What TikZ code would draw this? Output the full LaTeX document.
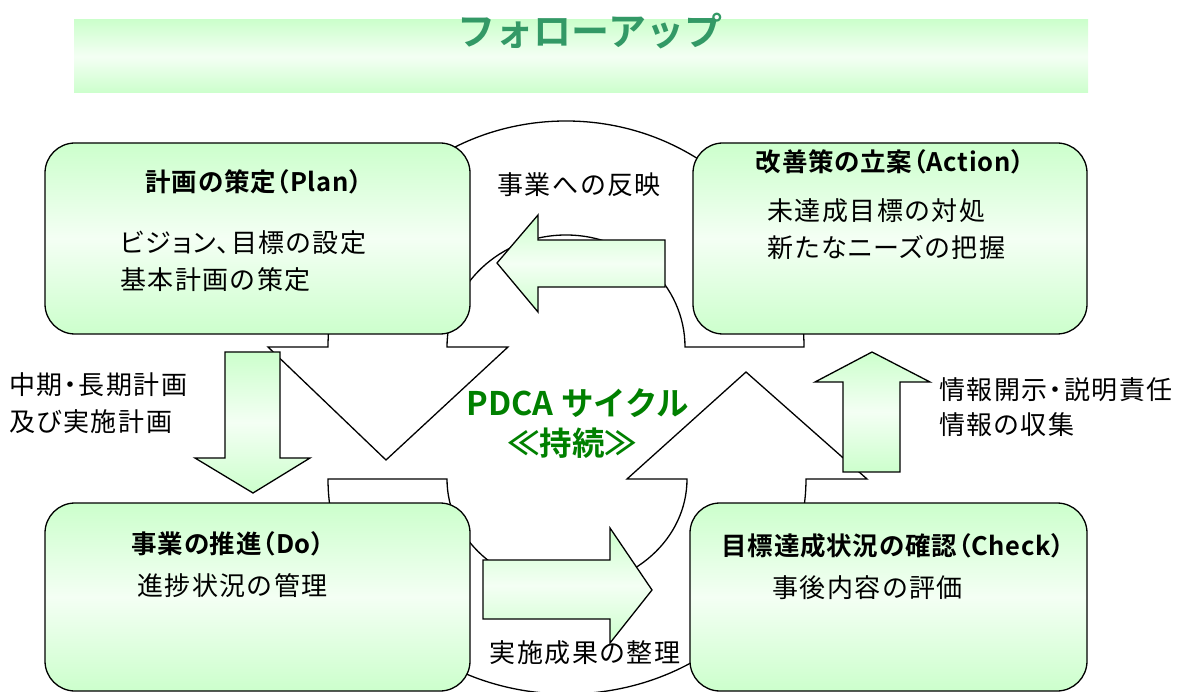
\documentclass[tikz,border=0pt]{standalone}
\usepackage{fontspec}
\newfontfamily\jpbody{Noto Sans CJK JP}[RawFeature={+palt}, LetterSpace=6]
\newfontfamily\jphead{Noto Sans CJK JP Bold}[RawFeature={+palt}, LetterSpace=3]
\newfontfamily\jpbig{Noto Sans CJK JP Bold}
\definecolor{gA}{HTML}{CCFFCC}
\definecolor{gB}{HTML}{F4FFF4}
\definecolor{titlegreen}{HTML}{339966}
\definecolor{pdcagreen}{HTML}{008000}
\pgfdeclareverticalshading{gshade}{100bp}{color(0bp)=(gA); color(25bp)=(gA); color(50bp)=(gB); color(75bp)=(gA); color(100bp)=(gA)}
\tikzset{
  box/.style={draw=black, line width=1.3pt, rounded corners=30pt, shading=gshade, inner sep=0pt},
  band/.style={shading=gshade, inner sep=0pt},
  barrow/.style={draw=black, line width=1.3pt, shading=gshade, line join=miter},
  ring/.style={draw=black, line width=1.3pt, fill=white, line join=miter},
  headtxt/.style={font=\jphead\fontsize{25.5pt}{29pt}\selectfont, inner sep=0pt},
  bodytxt/.style={font=\jpbody\fontsize{26pt}{30pt}\selectfont, inner sep=0pt, anchor=west},
  labtxt/.style={font=\jpbody\fontsize{26pt}{30pt}\selectfont, inner sep=0pt},
  pdcatxt/.style={font=\jpbig\fontsize{32.5pt}{36pt}\selectfont, text=pdcagreen, inner sep=0pt},
}
\begin{document}
\begin{tikzpicture}[x=1pt, y=-1pt]
\useasboundingbox (0,0) rectangle (1184,692);
\clip (0,0) rectangle (1184,692);
% title band
\node[band, minimum width=1014pt, minimum height=73pt] (bandbox) at (581,56.5) {};
\node[font=\jpbig\fontsize{38pt}{42pt}\selectfont, text=titlegreen, inner sep=0pt] (title) at (590,31) {フォローアップ};
% circular arrows
\path[ring] (804,347) arc[start angle=0, end angle=-180, x radius=238, y radius=226]
  -- (268,347) -- (386,460) -- (508,347) -- (447,347)
  arc[start angle=180, end angle=360, x radius=119, y radius=112] -- cycle;
\path[ring] (328,479) arc[start angle=180, end angle=0, x radius=239, y radius=215]
  -- (867,479) -- (746,372) -- (627,479) -- (687,479)
  arc[start angle=0, end angle=180, x radius=120, y radius=108] -- cycle;
% boxes
\node[box, minimum width=425pt, minimum height=191pt] (plan) at (257.5,238.5) {};
\node[box, minimum width=394pt, minimum height=191pt] (action) at (890,238.5) {};
\node[box, minimum width=425pt, minimum height=188pt] (do) at (257.5,597) {};
\node[box, minimum width=397pt, minimum height=188pt] (check) at (888.5,597) {};
% block arrows
\path[barrow] (665,240) -- (538,240) -- (538,215) -- (497,263) -- (538,312) -- (538,287) -- (665,287) -- cycle;
\path[barrow] (225,352) -- (280,352) -- (280,458) -- (310,458) -- (253,493) -- (195,458) -- (225,458) -- cycle;
\path[barrow] (483,560) -- (610,560) -- (610,528) -- (652,590) -- (610,643) -- (610,619) -- (483,619) -- cycle;
\path[barrow] (843,472) -- (843,382) -- (815,382) -- (872,352) -- (930,382) -- (900,382) -- (900,472) -- cycle;
% box texts
\node[headtxt] (plantitle) at (254,182) {計画の策定（Plan）};
\node[bodytxt] (plan1) at (120,243) {ビジョン、目標の設定};
\node[bodytxt] (plan2) at (120,280) {基本計画の策定};
\node[headtxt] (actiontitle) at (890,162) {改善策の立案（Action）};
\node[bodytxt] (action1) at (767,211) {未達成目標の対処};
\node[bodytxt] (action2) at (767,248) {新たなニーズの把握};
\node[headtxt] (dotitle) at (228,544) {事業の推進（Do）};
\node[bodytxt] (do1) at (137,586) {進捗状況の管理};
\node[headtxt] (checktitle) at (893,546) {目標達成状況の確認（Check）};
\node[bodytxt] (check1) at (772,588) {事後内容の評価};
% arrow labels
\node[labtxt] (lab1) at (579,185) {事業への反映};
\node[bodytxt] (lab2a) at (9,385) {中期・長期計画};
\node[bodytxt] (lab2b) at (9,422) {及び実施計画};
\node[bodytxt] (lab3a) at (939,390) {情報開示・説明責任};
\node[bodytxt] (lab3b) at (939,425) {情報の収集};
\node[labtxt] (lab4) at (585,653) {実施成果の整理};
% centre
\node[pdcatxt] (pdca) at (578,403) {PDCA サイクル};
\node[pdcatxt] (keep) at (572,443) {≪持続≫};
\end{tikzpicture}
\end{document}
